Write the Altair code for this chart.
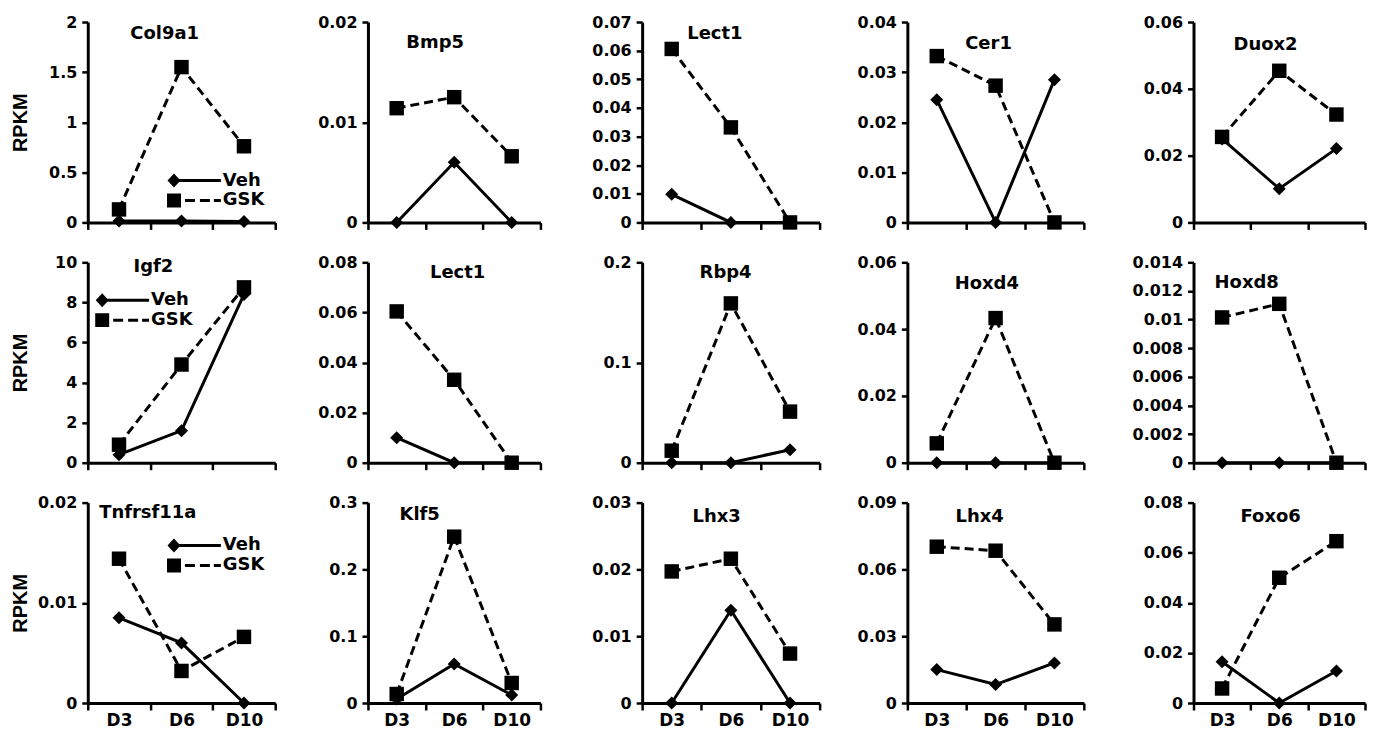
import altair as alt
import pandas as pd

days = ["D3", "D6", "D10"]
series_names = ["Veh", "GSK"]
genes = ["Col9a1", "Bmp5", "Lect1", "Cer1", "Duox2",
         "Igf2", "Lect1", "Rbp4", "Hoxd4", "Hoxd8",
         "Tnfrsf11a", "Klf5", "Lhx3", "Lhx4", "Foxo6"]
veh = [
    [0.015, 0.015, 0.01],
    [0.0, 0.006, 0.0],
    [0.0098, 0.0, 0.0],
    [0.0245, 0.0, 0.0285],
    [0.0250, 0.0101, 0.0221],
    [0.4, 1.6, 8.4],
    [0.0100, 0.0, 0.0],
    [0.0, 0.0, 0.013],
    [0.0, 0.0, 0.0],
    [0.0, 0.0, 0.0],
    [0.0085, 0.0060, 0.0],
    [0.006, 0.0585, 0.012],
    [0.0, 0.0139, 0.0],
    [0.0150, 0.0083, 0.018],
    [0.0165, 0.0, 0.0128],
]
gsk = [
    [0.13, 1.55, 0.76],
    [0.0114, 0.0125, 0.0066],
    [0.0606, 0.0332, 0.0],
    [0.0332, 0.0273, 0.0],
    [0.0256, 0.0454, 0.0323],
    [0.9, 4.9, 8.75],
    [0.0604, 0.0331, 0.0],
    [0.012, 0.159, 0.051],
    [0.0058, 0.0433, 0.0],
    [0.01015, 0.0111, 0.0],
    [0.0144, 0.0032, 0.0066],
    [0.0135, 0.249, 0.030],
    [0.0197, 0.0216, 0.0074],
    [0.0702, 0.0684, 0.0353],
    [0.0058, 0.0500, 0.0646],
]
yticks = [
    [0, 0.5, 1, 1.5, 2],
    [0, 0.01, 0.02],
    [0, 0.01, 0.02, 0.03, 0.04, 0.05, 0.06, 0.07],
    [0, 0.01, 0.02, 0.03, 0.04],
    [0, 0.02, 0.04, 0.06],
    [0, 2, 4, 6, 8, 10],
    [0, 0.02, 0.04, 0.06, 0.08],
    [0, 0.1, 0.2],
    [0, 0.02, 0.04, 0.06],
    [0, 0.002, 0.004, 0.006, 0.008, 0.01, 0.012, 0.014],
    [0, 0.01, 0.02],
    [0, 0.1, 0.2, 0.3],
    [0, 0.01, 0.02, 0.03],
    [0, 0.03, 0.06, 0.09],
    [0, 0.02, 0.04, 0.06, 0.08],
]
y_title = "RPKM"

rows = []
for p, g in enumerate(genes):
    for i, d in enumerate(days):
        rows.append(dict(panel=p, idx=i, day=d, series="Veh", value=veh[p][i]))
        rows.append(dict(panel=p, idx=i, day=d, series="GSK", value=gsk[p][i]))
df = pd.DataFrame(rows)

# ---- layout / style ----
FONT = "DejaVu Sans"
col_widths = [188, 173, 178, 177, 172]   # plot-area widths per column
col_extra = [0, 5, 14, 0, 22]            # extra left gap per column
COL_SPACING = 88
H = 201
title_pos = [(0.41, 12), (0.39, 21), (0.41, 12), (0.46, 22), (0.42, 23),
             (0.35, 5), (0.52, 11), (0.47, 11), (0.45, 22), (0.31, 21),
             (0.32, 10), (0.30, 12), (0.42, 14), (0.41, 14), (0.45, 14)]
legend_pos = {0: (0.46, 159), 5: (0.077, 38), 10: (0.46, 43)}

PATH_VEH = ("M-0.8125,0L0,-0.875L0.8125,0L0,0.875Z"
            "M0.375,-0.1875L5.875,-0.1875L5.875,0.1875L0.375,0.1875Z")
PATH_GSK = ("M-0.875,-0.875L0.875,-0.875L0.875,0.875L-0.875,0.875Z"
            "M1.375,-0.1875L2.625,-0.1875L2.625,0.1875L1.375,0.1875Z"
            "M3.25,-0.1875L4.5,-0.1875L4.5,0.1875L3.25,0.1875Z"
            "M5.0,-0.1875L5.875,-0.1875L5.875,0.1875L5.0,0.1875Z")

label_expr = " : ".join(f"datum.value === {i} ? '{d}'" for i, d in enumerate(days)) + " : ''"


def panel(p):
    r, c = divmod(p, 5)
    w = col_widths[c]
    e = col_extra[c]
    ticks = yticks[p]
    base = alt.Chart(df).transform_filter(alt.datum.panel == p)

    xaxis_kw = dict(values=[-0.5, 0, 0.5, 1, 1.5, 2, 2.5], title=None, grid=False,
                    domainColor="black", domainWidth=3, tickColor="black",
                    tickWidth=2.5, tickSize=7,
                    tickOpacity={"condition": {"test": "datum.value % 1 === 0", "value": 0}, "value": 1},
                    labelFlush=False, labelOverlap=False)
    if r == 2:
        xaxis_kw.update(labels=True, labelExpr=label_expr, labelFont=FONT, labelFontSize=17,
                        labelFontWeight="bold", labelColor="black", labelPadding=3)
    else:
        xaxis_kw.update(labels=False)
    xaxis = alt.Axis(**xaxis_kw)

    yaxis_kw = dict(values=ticks, format="~r", grid=False, domainColor="black", domainWidth=3,
                    tickColor="black", tickWidth=2.5, tickSize=6, labelFont=FONT,
                    labelFontSize=16, labelFontWeight="bold", labelColor="black",
                    labelPadding=5, labelOverlap=False, offset=-e)
    if c == 0:
        yaxis_kw.update(title=y_title, titleFont="Liberation Sans", titleFontSize=20,
                        titleFontWeight="bold", titleColor="black", titleAngle=270,
                        titleX=-67, titleY=H / 2, titleAlign="center", titleBaseline="middle")
    else:
        yaxis_kw.update(title=None)
    yaxis = alt.Axis(**yaxis_kw)

    X = alt.X("idx:Q", scale=alt.Scale(domain=[-0.5, 2.5], range=[e, e + w], nice=False, zero=False),
              axis=xaxis)
    Y = alt.Y("value:Q", scale=alt.Scale(domain=[0, ticks[-1]], nice=False, zero=True), axis=yaxis)

    veh_line = base.transform_filter(alt.datum.series == "Veh").mark_line(
        color="black", strokeWidth=3).encode(x=X, y=Y)
    gsk_line = base.transform_filter(alt.datum.series == "GSK").mark_line(
        color="black", strokeWidth=3, strokeDash=[9, 5]).encode(x=X, y=Y)
    veh_pts = base.transform_filter(alt.datum.series == "Veh").mark_point(
        shape="diamond", filled=True, size=170, color="black", opacity=1).encode(x=X, y=Y)
    gsk_pts = base.transform_filter(alt.datum.series == "GSK").mark_point(
        shape="square", filled=True, size=210, color="black", opacity=1).encode(x=X, y=Y)

    fx, ty = title_pos[p]
    txt = alt.Chart(pd.DataFrame({"gene": [genes[p]]})).mark_text(
        font=FONT, fontSize=18, fontWeight="bold", color="black", align="center",
        baseline="middle").encode(text="gene:N", x=alt.value(e + fx * w), y=alt.value(ty))

    layers = [veh_line, veh_pts, gsk_line, gsk_pts, txt]
    if p in legend_pos:
        lf, ly = legend_pos[p]
        leg = base.transform_filter(alt.datum.idx == 0).mark_point(
            filled=True, size=256, opacity=0, color="black").encode(
            x=X, y=Y,
            shape=alt.Shape("series:N",
                            scale=alt.Scale(domain=series_names, range=[PATH_VEH, PATH_GSK]),
                            legend=alt.Legend(orient="none", legendX=e + lf * w - 9, legendY=ly - 9,
                                              title=None, labelFont=FONT, labelFontSize=18,
                                              labelFontWeight="bold", labelColor="black",
                                              labelOffset=40, symbolSize=256,
                                              symbolStrokeWidth=0, symbolOpacity=1,
                                              symbolFillColor="black", rowPadding=2,
                                              padding=0)))
        layers.append(leg)
    return alt.layer(*layers).properties(width=e + w, height=H)


chart = alt.concat(*[panel(p) for p in range(15)], columns=5,
                   spacing={"row": 40, "column": COL_SPACING}, bounds="flush").resolve_scale(
    shape="independent").configure_view(stroke=None).properties(
    padding={"left": 3, "top": 5, "right": 0, "bottom": 0}, background="white")

chart.save("out.html", embed_options={"renderer": "svg", "actions": False})
